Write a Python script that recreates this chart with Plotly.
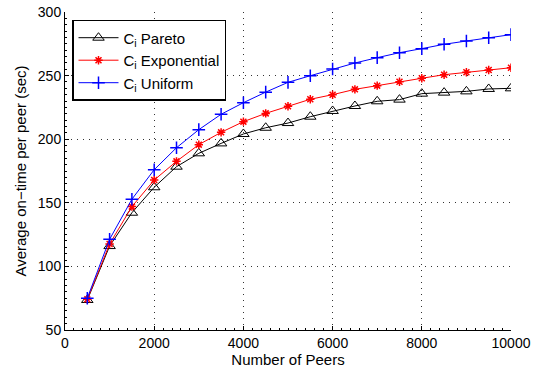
import plotly.graph_objects as go

peers = [500, 1000, 1500, 2000, 2500, 3000, 3500, 4000, 4500, 5000,
         5500, 6000, 6500, 7000, 7500, 8000, 8500, 9000, 9500, 10000]
pareto = [73.6, 116, 142.2, 162.2, 178.4, 188.9, 196.7, 204.1, 209, 212.7,
          217.7, 222.2, 226.1, 229.8, 231.1, 235.8, 236.6, 237.6, 239.5, 240]
exponential = [74.1, 117.6, 147, 167.9, 182.6, 195.7, 205.4, 213.8, 220.3, 225.9,
               231.4, 235, 239.2, 242.1, 245.2, 247.9, 250.7, 252.6, 254.4, 256.2]
uniform = [75, 121.3, 152.8, 176, 193.3, 207.5, 219.6, 228.7, 237, 244.7,
           249.9, 255.2, 259.9, 264.1, 268, 271.2, 274.6, 277.2, 279.8, 282.2]

x_ticks = [0, 2000, 4000, 6000, 8000, 10000]
y_ticks = [50, 100, 150, 200, 250, 300]

FONT = "Liberation Sans, Arial, Helvetica, sans-serif"

fig = go.Figure()
fig.add_trace(go.Scatter(
    x=peers, y=pareto, mode="lines+markers", name="C<sub>i</sub> Pareto",
    line=dict(color="black", width=1),
    marker=dict(symbol="triangle-up-open", size=10, color="black", line=dict(width=1))))
fig.add_trace(go.Scatter(
    x=peers, y=exponential, mode="lines+markers", name="C<sub>i</sub> Exponential",
    line=dict(color="red", width=1),
    marker=dict(symbol="asterisk-open", size=7, color="red", line=dict(width=1.5, color="red"))))
fig.add_trace(go.Scatter(
    x=peers, y=uniform, mode="lines+markers", name="C<sub>i</sub> Uniform",
    line=dict(color="blue", width=1),
    marker=dict(symbol="cross-thin-open", size=9, color="blue", line=dict(width=1.5, color="blue"))))

axis_common = dict(
    showline=True, linecolor="black", linewidth=1, mirror=False,
    ticks="inside", ticklen=4, tickcolor="black", tickwidth=1,
    showgrid=True, gridcolor="#333333", griddash="1px,5px", gridwidth=1,
    zeroline=False, automargin=False, ticklabeloverflow="allow",
    tickfont=dict(family=FONT, size=14, color="black"),
)

fig.update_xaxes(
    range=[0, 10000], tickvals=x_ticks, ticktext=[str(v) for v in x_ticks],
    title=dict(text="Number of Peers", font=dict(family=FONT, size=15, color="black"), standoff=2),
    minor=dict(dtick=200, ticks="inside", ticklen=2, tickcolor="black", showgrid=False),
    **axis_common)
fig.update_yaxes(
    range=[50, 300], tickvals=y_ticks, ticktext=[str(v) for v in y_ticks],
    title=dict(text="Average on\u2212time per peer (sec)", font=dict(family=FONT, size=15, color="black"), standoff=7),
    minor=dict(dtick=5, ticks="inside", ticklen=2, tickcolor="black", showgrid=False),
    **axis_common)

fig.update_layout(
    width=539, height=372,
    margin=dict(l=65, r=28, t=12, b=42, autoexpand=False),
    paper_bgcolor="white", plot_bgcolor="white",
    font=dict(family=FONT, size=14, color="black"),
    showlegend=True,
    legend=dict(
        x=0.0157, y=0.975, xanchor="left", yanchor="top",
        bgcolor="white", bordercolor="black", borderwidth=1.5,
        font=dict(family=FONT, size=15, color="black"),
        tracegroupgap=0, itemwidth=40,
    ),
)

fig.write_html("out.html", config={"displayModeBar": False},
               post_script="document.body.style.margin='0';")
